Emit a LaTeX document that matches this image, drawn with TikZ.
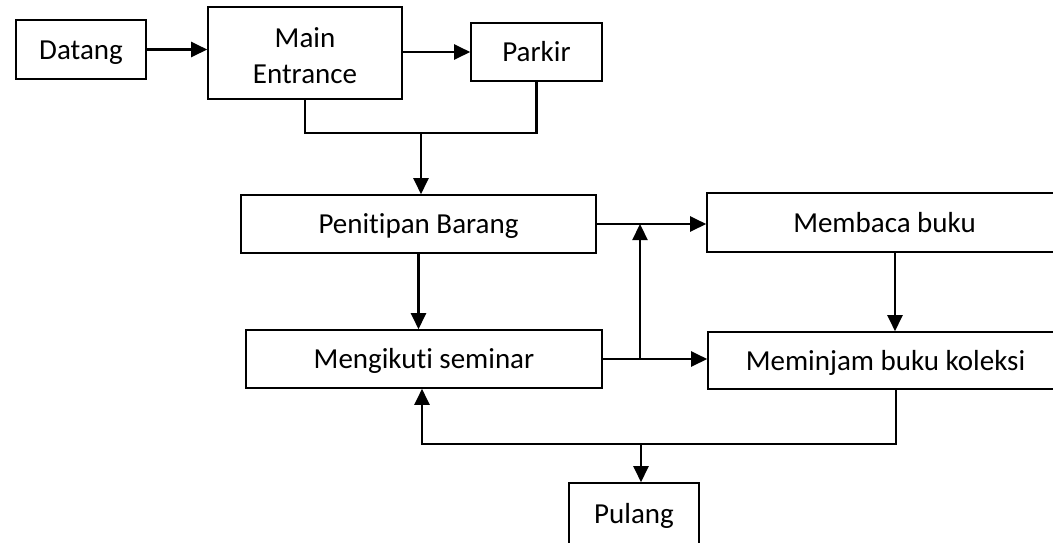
\documentclass[tikz,border=0pt]{standalone}
\usepackage{fontspec}
\setmainfont{Carlito}[RawFeature=-liga]
\usetikzlibrary{calc,arrows.meta}

\tikzset{
	flowbox/.style={draw, line width=\flowboxline, align=center, inner sep=0pt,
		text height=19pt, text depth=0pt,
		font=\fontsize{29}{36}\selectfont},
	flowarrow/.style={line width=\flowarrowline,
		-{Triangle[length=16pt,width=15pt]}},
	flowline/.style={line width=\flowarrowline}
}

\def\flowboxline{1.6pt}
\def\flowarrowline{2.3pt}

\begin{document}
\begin{tikzpicture}[x=1pt,y=-1pt]
\begin{scope}
\path[clip] (0,0) rectangle (1053,542);

% boxes
\node[flowbox, minimum width=130, minimum height=59] (datang)   at (81,49.5)    {Datang};
\node[flowbox, minimum width=194, minimum height=92, text height=60pt] (entrance) at (305,53) {Main\\Entrance};
\node[flowbox, minimum width=131, minimum height=58] (parkir)   at (536.5,52)   {Parkir};
\node[flowbox, minimum width=355, minimum height=58] (titip)    at (418.5,224)  {Penitipan Barang};
\node[flowbox, minimum width=355, minimum height=59] (baca)     at (884.5,222.5){Membaca buku};
\node[flowbox, minimum width=356, minimum height=58] (seminar)  at (424,359)    {Mengikuti seminar};
\node[flowbox, minimum width=355, minimum height=57] (pinjam)   at (885.5,360.5){Meminjam buku koleksi};
\node[flowbox, minimum width=130, minimum height=62] (pulang)   at (634,514)    {Pulang};

\coordinate (join) at (421,133);
\coordinate (split) at (640,359);
\coordinate (back) at (641,444);

% top row
\draw[flowarrow] (datang.east) -- (datang.east -| entrance.west);
\draw[flowarrow] (entrance.east |- parkir.west) -- (parkir.west);
\draw[flowline] (entrance.south) |- (join) -| (parkir.south);
\draw[flowarrow] (join) -- (join |- titip.north);

% middle
\draw[flowarrow] (titip.south) -- (titip.south |- seminar.north);
\draw[flowarrow] (titip.east) -- (titip.east -| baca.west);
\draw[flowarrow] (seminar.east) -- (seminar.east -| pinjam.west);
\draw[flowarrow] (split) -- (split |- titip.east);
\draw[flowarrow] ($(baca.south) + (10.5,0)$) -- ($(baca.south |- pinjam.north) + (10.5,0)$);

% way back
\draw[flowarrow] ($(pinjam.south) + (10.5,0)$) |- (back) -| ($(seminar.south) + (-2,0)$);
\draw[flowarrow] (back) -- (back |- pulang.north);

\end{scope}
\end{tikzpicture}
\end{document}
